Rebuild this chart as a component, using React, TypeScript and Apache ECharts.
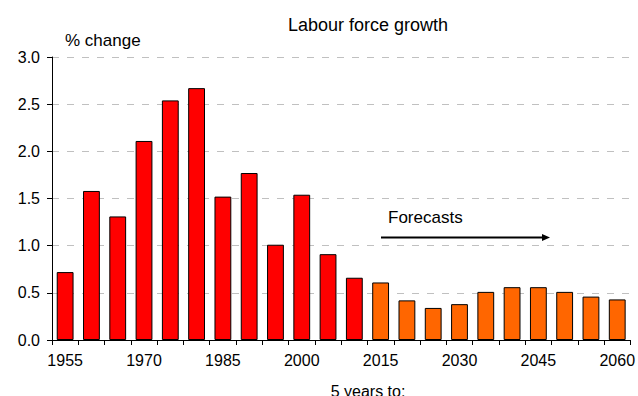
import React, { useEffect, useRef } from "react";
import * as echarts from "echarts";

const years = ["1955","1960","1965","1970","1975","1980","1985","1990","1995","2000","2005","2010","2015","2020","2025","2030","2035","2040","2045","2050","2055","2060"];
const historical = [0.72,1.58,1.31,2.11,2.54,2.67,1.52,1.77,1.01,1.54,0.91,0.66];
const forecast = [0.61,0.42,0.34,0.38,0.51,0.56,0.56,0.51,0.46,0.43];
const yTicks = [0, 0.5, 1.0, 1.5, 2.0, 2.5, 3.0];

const FONT = "'Liberation Sans', Arial, sans-serif";

export default function App() {
  const ref = useRef<HTMLDivElement>(null);
  useEffect(() => {
    document.body.style.margin = "0";
    const chart = echarts.init(ref.current!, null, { renderer: "svg" });
    const histData = years.map((_, i) => (i < historical.length ? historical[i] : "-"));
    const foreData = years.map((_, i) => (i >= historical.length ? forecast[i - historical.length] : "-"));
    chart.setOption({
      animation: false,
      backgroundColor: "#fff",
      textStyle: { fontFamily: FONT },
      grid: { left: 52, right: 6, top: 57, bottom: 56, containLabel: false },
      xAxis: {
        type: "category",
        data: years,
        boundaryGap: true,
        axisLine: { lineStyle: { color: "#000", width: 1 } },
        axisTick: { show: true, alignWithLabel: false, interval: 0, length: 5, lineStyle: { color: "#000" } },
        axisLabel: { interval: 2, margin: 12, fontSize: 16, color: "#000", fontFamily: FONT },
        splitLine: { show: false },
      },
      yAxis: {
        type: "value",
        min: yTicks[0],
        max: yTicks[yTicks.length - 1],
        interval: 0.5,
        axisLine: { show: true, lineStyle: { color: "#000", width: 1 } },
        axisTick: { show: true, length: 5, lineStyle: { color: "#000" } },
        axisLabel: {
          margin: 12,
          fontSize: 16,
          color: "#000",
          fontFamily: FONT,
          formatter: (v: number) => v.toFixed(1),
        },
        splitLine: { show: true, lineStyle: { color: "#c0c0c0", type: [7, 8], width: 1 } },
      },
      series: [
        {
          name: "Historical",
          type: "bar",
          stack: "a",
          data: histData,
          barCategoryGap: "36%",
          itemStyle: { color: "#ff0000", borderColor: "#000", borderWidth: 1 },
        },
        {
          name: "Forecasts",
          type: "bar",
          stack: "a",
          data: foreData,
          barCategoryGap: "36%",
          itemStyle: { color: "#ff6600", borderColor: "#000", borderWidth: 1 },
        },
      ],
      graphic: [
        {
          type: "text",
          x: 368,
          y: 25,
          style: { text: "Labour force growth", fill: "#000", font: "18px " + FONT, textAlign: "center", textVerticalAlign: "middle" },
        },
        {
          type: "text",
          x: 65,
          y: 40,
          style: { text: "% change", fill: "#000", font: "17px " + FONT, textVerticalAlign: "middle" },
        },
        {
          type: "text",
          x: 368,
          y: 391,
          style: { text: "5 years to:", fill: "#000", font: "16px " + FONT, textAlign: "center", textVerticalAlign: "middle" },
        },
        {
          type: "text",
          x: 388,
          y: 217,
          style: { text: "Forecasts", fill: "#000", font: "17px " + FONT, textVerticalAlign: "middle" },
        },
        {
          type: "line",
          shape: { x1: 381, y1: 237.5, x2: 544, y2: 237.5 },
          style: { stroke: "#000", lineWidth: 2 },
        },
        {
          type: "polygon",
          shape: { points: [[550, 237.5], [542, 234], [542, 241]] },
          style: { fill: "#000" },
        },
      ],
    });
    return () => chart.dispose();
  }, []);
  return <div ref={ref} style={{ width: 638, height: 396 }} />;
}
